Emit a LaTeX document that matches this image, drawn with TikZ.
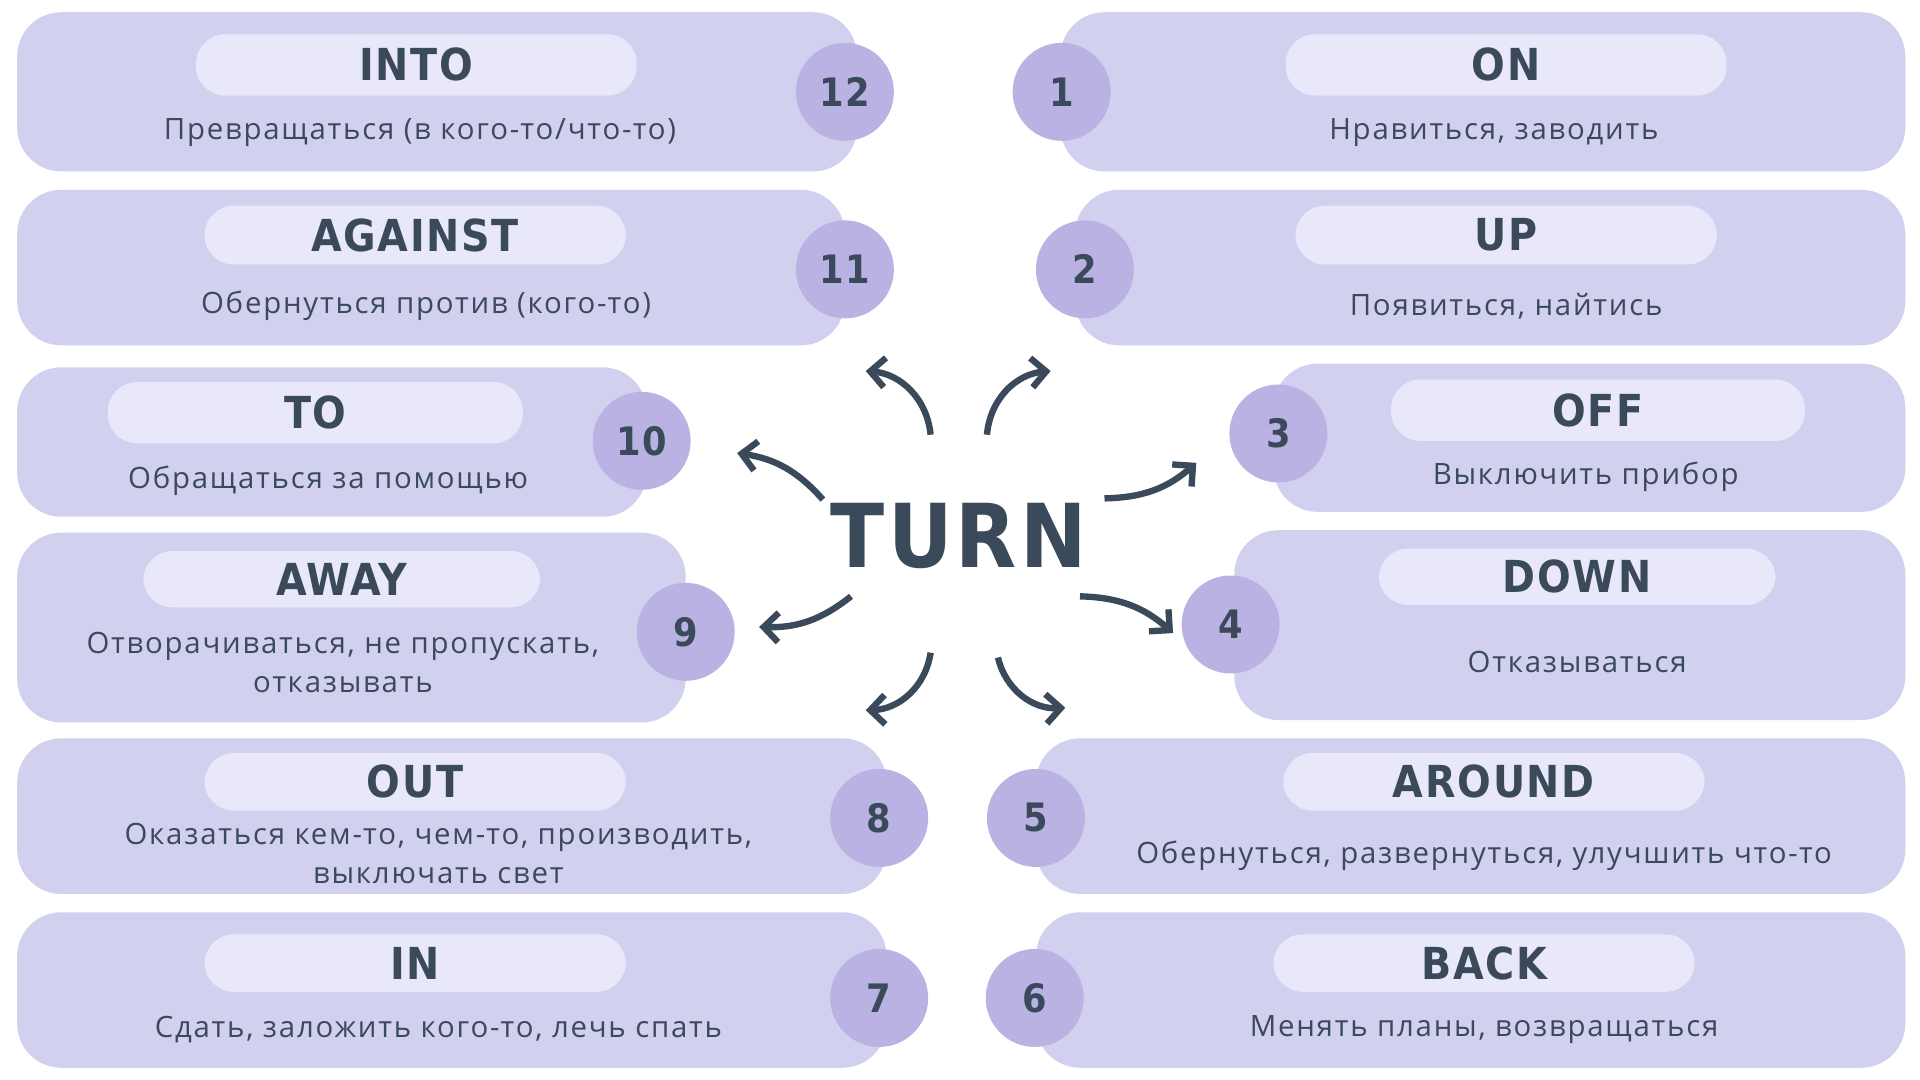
\documentclass[tikz,border=0pt]{standalone}
\usepackage{fontspec}
\setmainfont{Open Sans}[LetterSpace=6]
\newfontfamily\titlefont{DejaVu Sans Condensed}[LetterSpace=4]
\usetikzlibrary{arrows.meta,calc}
\definecolor{boxc}{HTML}{D1D1EF}
\definecolor{pillc}{HTML}{E9E8FB}
\definecolor{circc}{HTML}{B9B2E3}
\definecolor{ink}{HTML}{3B4A5B}
\tikzset{
  card/.style={fill=boxc,rounded corners=18pt},
  pill/.style={fill=pillc,rounded corners=12pt},
  num/.style={circle,fill=circc,minimum size=40pt,inner sep=0pt,text=ink,font=\titlefont\bfseries\fontsize{16}{16}\selectfont},
  ttl/.style={text=ink,font=\titlefont\bfseries\fontsize{18}{18}\selectfont},
  dsc/.style={text=ink,font=\fontsize{12}{16}\selectfont,align=center},
  arr/.style={ink,line width=2.6pt,-{Straight Barb[length=6pt,width=12pt]}}
}
\newcommand{\itm}[9]{%
  \fill[card] (#2) rectangle (#3);
  \fill[pill] (#4) rectangle (#5);
  \node[ttl] (#1t) at ($(#4)!0.5!(#5)$) {#8};
  \node[num] (#1n) at (#6) {#7};
  \node[dsc] (#1d) at (#9) {\descr};
}
\begin{document}
\begin{tikzpicture}[x=0.5pt,y=-0.5pt]
\fill[white] (0,0) rectangle (1568,882);
\useasboundingbox (0,0) rectangle (1568,882);
\def\descr{Превращаться (в кого-то/что-то)}
\itm{a}{14,10}{700,140}{160,28}{520,78}{690,75}{12}{INTO}{343,108}
\def\descr{Обернуться против (кого-то)}
\itm{b}{14,155}{690,282}{167,168}{511,216}{690,220}{11}{AGAINST}{348,250}
\def\descr{Обращаться за помощью}
\itm{c}{14,300}{528,422}{88,312}{427,362}{524,360}{10}{TO}{268,393}
\def\descr{Отворачиваться, не пропускать,\\отказывать}
\itm{d}{14,435}{560,590}{117,450}{441,496}{560,516}{9}{AWAY}{280,541}
\def\descr{Оказаться кем-то, чем-то, производить,\\выключать свет}
\itm{e}{14,603}{724,730}{167,615}{511,662}{718,668}{8}{OUT}{358,697}
\def\descr{Сдать, заложить кого-то, лечь спать}
\itm{f}{14,745}{724,872}{167,763}{511,810}{718,815}{7}{IN}{358,841}
\def\descr{Нравиться, заводить}
\itm{g}{866,10}{1556,140}{1050,28}{1410,78}{867,75}{1}{ON}{1220,108}
\def\descr{Появиться, найтись}
\itm{h}{878,155}{1556,282}{1058,168}{1402,216}{886,220}{2}{UP}{1230,250}
\def\descr{Выключить прибор}
\itm{i}{1040,297}{1556,418}{1136,310}{1474,360}{1044,354}{3}{OFF}{1295,389}
\def\descr{Отказываться}
\itm{j}{1008,433}{1556,588}{1126,448}{1450,494}{1005,510}{4}{DOWN}{1288,541}
\def\descr{Обернуться, развернуться, улучшить что-то}
\itm{k}{846,603}{1556,730}{1048,615}{1392,662}{846,668}{5}{AROUND}{1212,699}
\def\descr{Менять планы, возвращаться}
\itm{l}{846,745}{1556,872}{1040,763}{1384,810}{845,815}{6}{BACK}{1212,841}
\node[text=ink,font=\titlefont\bfseries\fontsize{36}{36}\selectfont] (turn) at (783,438) {TURN};
\coordinate (s1) at (760,355); \coordinate (e1) at (707,303);
\coordinate (s2) at (806,355); \coordinate (e2) at (858,303);
\coordinate (s3) at (672,408); \coordinate (e3) at (602,370);
\coordinate (s4) at (902,407); \coordinate (e4) at (977,378);
\coordinate (s5) at (695,487); \coordinate (e5) at (620,512);
\coordinate (s6) at (882,487); \coordinate (e6) at (958,517);
\coordinate (s7) at (760,533); \coordinate (e7) at (707,580);
\coordinate (s8) at (815,537); \coordinate (e8) at (870,578);
\draw[arr] (s1) to[bend right=40] (e1);
\draw[arr] (s2) to[bend left=40] (e2);
\draw[arr] (s3) to[bend right=20] (e3);
\draw[arr] (s4) to[bend right=20] (e4);
\draw[arr] (s5) to[bend left=20] (e5);
\draw[arr] (s6) to[bend left=20] (e6);
\draw[arr] (s7) to[bend left=40] (e7);
\draw[arr] (s8) to[bend right=40] (e8);
\end{tikzpicture}
\end{document}
